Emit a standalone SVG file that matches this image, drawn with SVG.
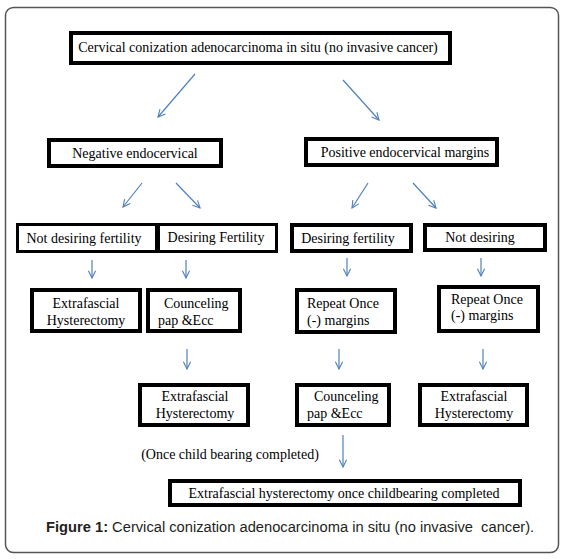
<svg xmlns="http://www.w3.org/2000/svg" width="564" height="559" viewBox="0 0 564 559">
<style>
.frame{fill:#fff;stroke:#555;stroke-width:1.5}
.box{fill:#fff;stroke:#000;stroke-width:4}
.thin{stroke-width:3}
.t{font-family:"Liberation Serif","Times New Roman",serif;font-size:14px;fill:#000}
.m{text-anchor:middle}
.arr{stroke:#4F81BD;stroke-width:1.2;fill:none;marker-end:url(#ah)}
.cap{font-family:"Liberation Sans",Arial,sans-serif;font-size:14.7px;fill:#231f20}
</style>
<defs>
<marker id="ah" viewBox="0 0 10 10" refX="9" refY="5" markerWidth="9" markerHeight="9" markerUnits="userSpaceOnUse" orient="auto">
<path d="M1,1 L9,5 L1,9" fill="none" stroke="#4F81BD" stroke-width="1.2"/>
</marker>
</defs>
<rect class="frame" x="5.5" y="7.5" width="553" height="545" rx="8"/>

<g id="n-top"><rect class="box" x="71" y="33" width="379" height="30"/><text class="t m" x="258" y="52">Cervical conization adenocarcinoma in situ (no invasive cancer)</text></g>
<g id="n-neg"><rect class="box" x="49" y="140" width="172" height="26"/><text class="t m" x="135" y="158">Negative endocervical</text></g>
<g id="n-pos"><rect class="box" x="306" y="139" width="191" height="26"/><text class="t m" x="405" y="157">Positive endocervical margins</text></g>

<g id="n-notdesfert"><rect class="box thin" x="17.5" y="224.5" width="139" height="27"/><text class="t m" x="84" y="243">Not desiring fertility</text></g>
<g id="n-desfert1"><rect class="box thin" x="158.5" y="224.5" width="118" height="27"/><text class="t m" x="216" y="242">Desiring Fertility</text></g>
<g id="n-desfert2"><rect class="box" x="292" y="225" width="119" height="26"/><text class="t m" x="348" y="243">Desiring fertility</text></g>
<g id="n-notdes"><rect class="box" x="425" y="225" width="120" height="25"/><text class="t m" x="480" y="242">Not desiring</text></g>

<g id="n-extra1"><rect class="box" x="32" y="290" width="108" height="41"/><text class="t m" x="86" y="308">Extrafascial</text><text class="t m" x="86" y="325">Hysterectomy</text></g>
<g id="n-couns1"><rect class="box" x="148" y="290" width="92" height="41"/><text class="t" x="164" y="308">Counceling</text><text class="t" x="158" y="325">pap &amp;Ecc</text></g>
<g id="n-repeat1"><rect class="box" x="297" y="290" width="98" height="42"/><text class="t" x="307" y="308">Repeat Once</text><text class="t" x="307" y="325">(-) margins</text></g>
<g id="n-repeat2"><rect class="box" x="439" y="287" width="99" height="44"/><text class="t" x="451" y="304">Repeat Once</text><text class="t" x="451" y="320">(-) margins</text></g>

<g id="n-extra2"><rect class="box" x="140" y="385" width="108" height="40"/><text class="t m" x="195" y="401">Extrafascial</text><text class="t m" x="195" y="418">Hysterectomy</text></g>
<g id="n-couns2"><rect class="box" x="297" y="385" width="92" height="40"/><text class="t" x="314" y="401">Counceling</text><text class="t" x="307" y="418">pap &amp;Ecc</text></g>
<g id="n-extra3"><rect class="box" x="420" y="385" width="107" height="40"/><text class="t m" x="474" y="401">Extrafascial</text><text class="t m" x="474" y="418">Hysterectomy</text></g>

<g id="n-final"><rect class="box" x="170" y="481" width="350" height="24"/><text class="t m" x="344" y="498">Extrafascial hysterectomy once childbearing completed</text></g>

<g id="lbl-once"><text class="t m" x="230" y="459">(Once child bearing completed)</text></g>

<g id="connectors">
<line class="arr" x1="195" y1="74" x2="158" y2="117"/>
<line class="arr" x1="343" y1="80" x2="379" y2="120"/>
<line class="arr" x1="142" y1="183" x2="123" y2="207"/>
<line class="arr" x1="176" y1="183" x2="200" y2="208"/>
<line class="arr" x1="368" y1="183" x2="352" y2="208"/>
<line class="arr" x1="413" y1="183" x2="436" y2="208"/>
<line class="arr" x1="92" y1="260" x2="92" y2="278"/>
<line class="arr" x1="186" y1="260" x2="186" y2="278"/>
<line class="arr" x1="347" y1="258" x2="347" y2="276"/>
<line class="arr" x1="481" y1="258" x2="481" y2="276"/>
<line class="arr" x1="187" y1="349" x2="187" y2="369"/>
<line class="arr" x1="339" y1="349" x2="339" y2="369"/>
<line class="arr" x1="483" y1="349" x2="483" y2="369"/>
<line class="arr" x1="343" y1="435" x2="343" y2="467"/>
</g>

<text class="cap" x="46" y="532" xml:space="preserve"><tspan font-weight="bold">Figure 1:</tspan> Cervical conization adenocarcinoma in situ (no invasive  cancer).</text>
</svg>
